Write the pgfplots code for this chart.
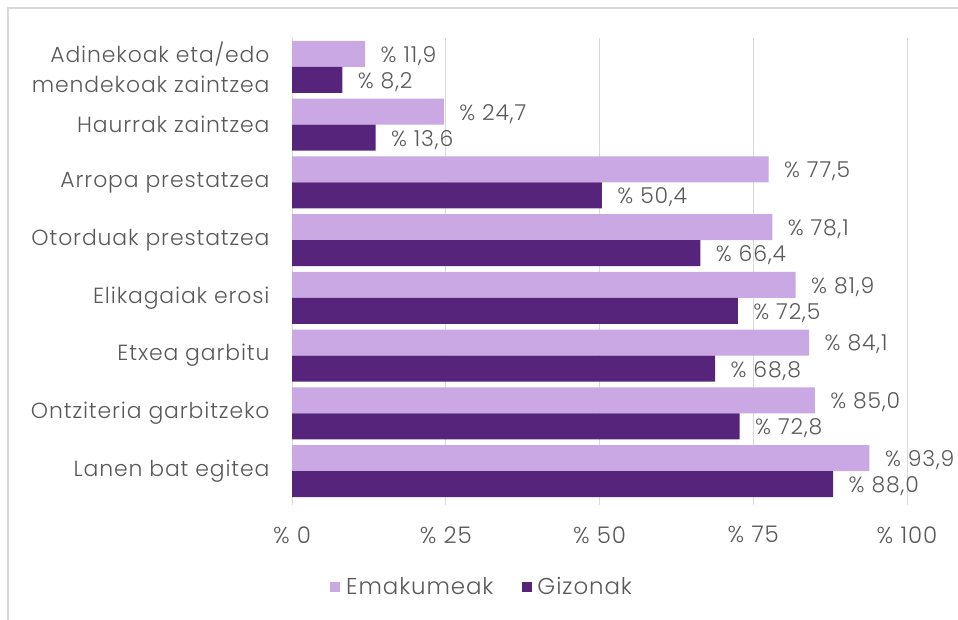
\documentclass[border=0pt]{standalone}
\usepackage{pgfplots}
\pgfplotsset{compat=1.18}
\usepackage{fontspec}
\setmainfont{Poppins}[UprightFont={* Light}, LetterSpace=4, Numbers=Monospaced]
\definecolor{emak}{RGB}{201,168,228}
\definecolor{gizon}{RGB}{86,36,122}
\definecolor{txt}{RGB}{89,89,89}
\definecolor{gridc}{RGB}{217,217,217}

\begin{document}
\begin{tikzpicture}
\useasboundingbox (0,0) rectangle (958bp,620bp);
\draw[gridc, line width=1.5bp] (8bp,0) -- (8bp,612bp) -- (958bp,612bp);
\begin{axis}[
    at={(292bp,120bp)}, anchor=south west,
    scale only axis, width=615bp, height=462bp,
    xbar=0pt, bar width=26bp,
    xmin=0, xmax=100, ymin=-0.5, ymax=7.5,
    y dir=reverse,
    ytick={0,...,7},
    yticklabels={{Adinekoak eta/edo\\mendekoak zaintzea}, Haurrak zaintzea,
        Arropa prestatzea, Otorduak prestatzea, Elikagaiak erosi,
        Etxea garbitu, Ontziteria garbitzeko, Lanen bat egitea},
    yticklabel style={align=right, font=\fontsize{22}{30}\selectfont,
        text=txt, xshift=-14bp},
    ytick style={draw=none},
    xtick={0,25,50,75,100},
    xticklabels={\% 0, \% 25, \% 50, \% 75, \% 100},
    xticklabel style={font=\fontsize{23}{26}\selectfont, text=txt, yshift=-18bp},
    xtick pos=bottom, tick align=outside, major tick length=5bp,
    xtick style={draw=gridc, line width=1bp},
    xmajorgrids, major grid style={draw=gridc, line width=1bp},
    axis line style={draw=none},
    /pgf/number format/.cd, fixed, fixed zerofill, precision=1, use comma,
        assume math mode=true, /pgfplots/.cd,
    nodes near coords={\% \pgfmathprintnumber{\pgfplotspointmeta}},
    every node near coord/.append style={font=\fontsize{22}{25}\selectfont,
        text=txt, anchor=west, xshift=12bp, yshift=-2bp},
    legend style={at={(0.309,-0.188)}, anchor=center, draw=none,
        legend columns=2, font=\fontsize{23}{26}\selectfont, text=txt,
        /tikz/every odd column/.append style={column sep=4bp},
        /tikz/every even column/.append style={column sep=26bp}},
    legend image code/.code={\fill[#1] (-6bp,-5bp) rectangle (4bp,5bp);},
]
\addplot[fill=emak, draw=none, bar shift=13bp] coordinates {
    (11.9,0) (24.7,1) (77.5,2) (78.1,3) (81.9,4) (84.1,5) (85.0,6) (93.9,7)};
\addplot[fill=gizon, draw=none, bar shift=-13bp] coordinates {
    (8.2,0) (13.6,1) (50.4,2) (66.4,3) (72.5,4) (68.8,5) (72.8,6) (88.0,7)};
\legend{Emakumeak, Gizonak}
\end{axis}
\end{tikzpicture}
\end{document}
